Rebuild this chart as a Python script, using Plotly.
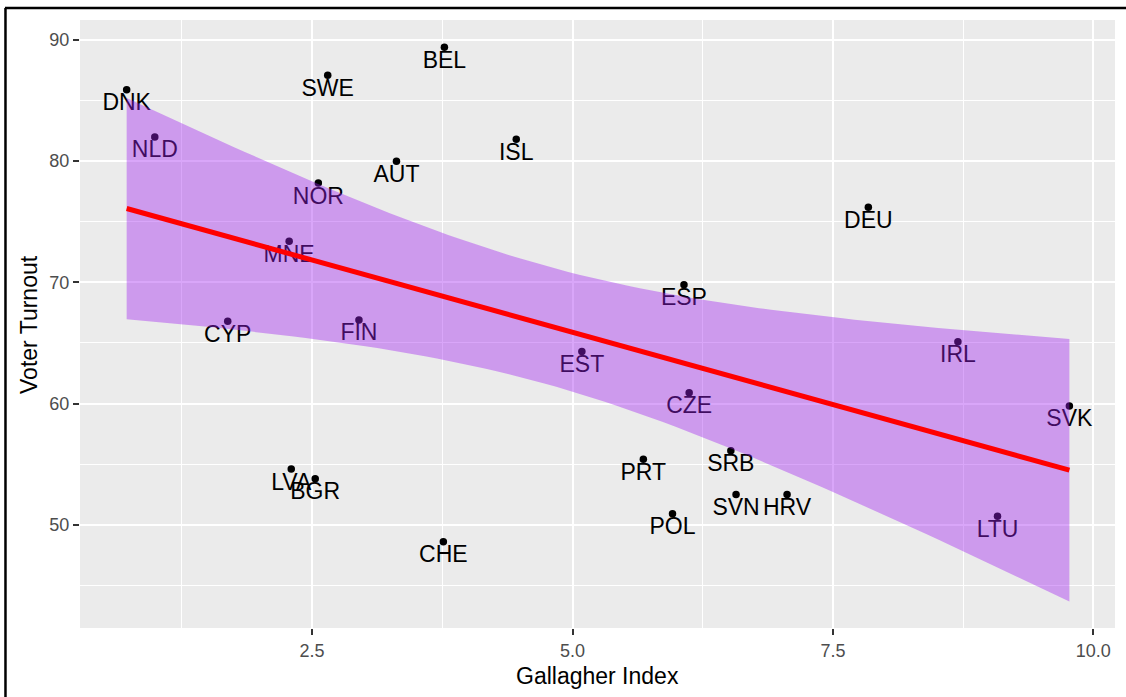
import numpy as np
import plotly.graph_objects as go

countries = ["DNK", "NLD", "SWE", "AUT", "NOR", "MNE", "CYP", "FIN", "LVA", "BGR",
             "BEL", "ISL", "ESP", "EST", "CZE", "SRB", "PRT", "SVN", "HRV", "POL",
             "CHE", "DEU", "IRL", "SVK", "LTU"]
gallagher = [0.72, 0.99, 2.65, 3.31, 2.56, 2.28, 1.69, 2.95, 2.30, 2.53,
             3.77, 4.46, 6.07, 5.09, 6.12, 6.52, 5.68, 6.57, 7.06, 5.96,
             3.76, 7.84, 8.70, 9.77, 9.08]
turnout = [85.9, 82.0, 87.1, 80.0, 78.2, 73.4, 66.8, 66.9, 54.6, 53.8,
           89.4, 81.8, 69.8, 64.3, 60.9, 56.1, 55.4, 52.5, 52.5, 50.9,
           48.6, 76.2, 65.1, 59.8, 50.7]

x_ticks = [2.5, 5.0, 7.5, 10.0]
y_ticks = [50, 60, 70, 80, 90]

# linear model fit with 95% confidence band (as geom_smooth(method="lm"))
x = np.array(gallagher)
y = np.array(turnout)
n = len(x)
slope, intercept = np.polyfit(x, y, 1)
xs = np.linspace(x.min(), x.max(), 80)
yhat = intercept + slope * xs
resid = y - (intercept + slope * x)
s = np.sqrt(np.sum(resid ** 2) / (n - 2))
sxx = np.sum((x - x.mean()) ** 2)
se = s * np.sqrt(1.0 / n + (xs - x.mean()) ** 2 / sxx)
tq = 2.068658  # t(0.975, df=23)
upper = yhat + tq * se
lower = yhat - tq * se

FONT = "Liberation Sans, Arial, sans-serif"

fig = go.Figure()
# points
fig.add_trace(go.Scatter(
    x=gallagher, y=turnout, mode="markers",
    marker=dict(color="black", size=7.5),
    hoverinfo="skip", showlegend=False,
))
# labels (tiny transparent markers set the text offset below each point)
fig.add_trace(go.Scatter(
    x=gallagher, y=turnout, text=countries, mode="markers+text",
    textposition="bottom center",
    marker=dict(color="rgba(0,0,0,0)", size=3.6),
    textfont=dict(family=FONT, size=23, color="black"),
    hoverinfo="skip", showlegend=False, cliponaxis=False,
))
# confidence band
fig.add_trace(go.Scatter(
    x=np.concatenate([xs, xs[::-1]]), y=np.concatenate([upper, lower[::-1]]),
    fill="toself", fillcolor="rgba(160,32,240,0.4)", line=dict(width=0),
    mode="lines", hoverinfo="skip", showlegend=False,
))
# fitted line
fig.add_trace(go.Scatter(
    x=xs, y=yhat, mode="lines", line=dict(color="#FF0000", width=5),
    hoverinfo="skip", showlegend=False,
))

fig.update_layout(
    width=1126, height=697,
    margin=dict(l=80, r=11, t=20, b=69),
    paper_bgcolor="white", plot_bgcolor="#EBEBEB",
    font=dict(family=FONT),
    xaxis=dict(
        range=[0.272, 10.208], tickvals=x_ticks, ticktext=[f"{v:.1f}" for v in x_ticks],
        showgrid=True, gridcolor="white", gridwidth=2, zeroline=False,
        ticks="outside", ticklen=6, tickwidth=1.5, tickcolor="#333333",
        tickfont=dict(family=FONT, size=18, color="#4D4D4D"),
        minor=dict(tick0=0, dtick=1.25, showgrid=True, gridcolor="white", gridwidth=1, ticks=""),
        showline=False,
    ),
    yaxis=dict(
        range=[41.48, 91.65], tickvals=y_ticks,
        showgrid=True, gridcolor="white", gridwidth=2, zeroline=False,
        ticks="outside", ticklen=6, tickwidth=1.5, tickcolor="#333333",
        tickfont=dict(family=FONT, size=18, color="#4D4D4D"),
        minor=dict(tick0=0, dtick=5, showgrid=True, gridcolor="white", gridwidth=1, ticks=""),
        showline=False,
    ),
    annotations=[
        dict(text="Gallagher Index", xref="paper", yref="paper", x=0.5, y=-0.079,
             xanchor="center", yanchor="middle", showarrow=False,
             font=dict(family=FONT, size=23, color="black")),
        dict(text="Voter Turnout", xref="paper", yref="paper", x=-0.0493, y=0.5,
             xanchor="center", yanchor="middle", showarrow=False, textangle=-90,
             font=dict(family=FONT, size=23, color="black")),
    ],
    shapes=[
        dict(type="line", xref="paper", yref="paper", x0=-0.0720, x1=-0.0720,
             y0=1.0197, y1=-0.12, line=dict(color="black", width=2.5)),
        dict(type="line", xref="paper", yref="paper", x0=-0.0725, x1=1.02,
             y0=1.0197, y1=1.0197, line=dict(color="black", width=2.5)),
    ],
)

fig.write_html("out.html")
